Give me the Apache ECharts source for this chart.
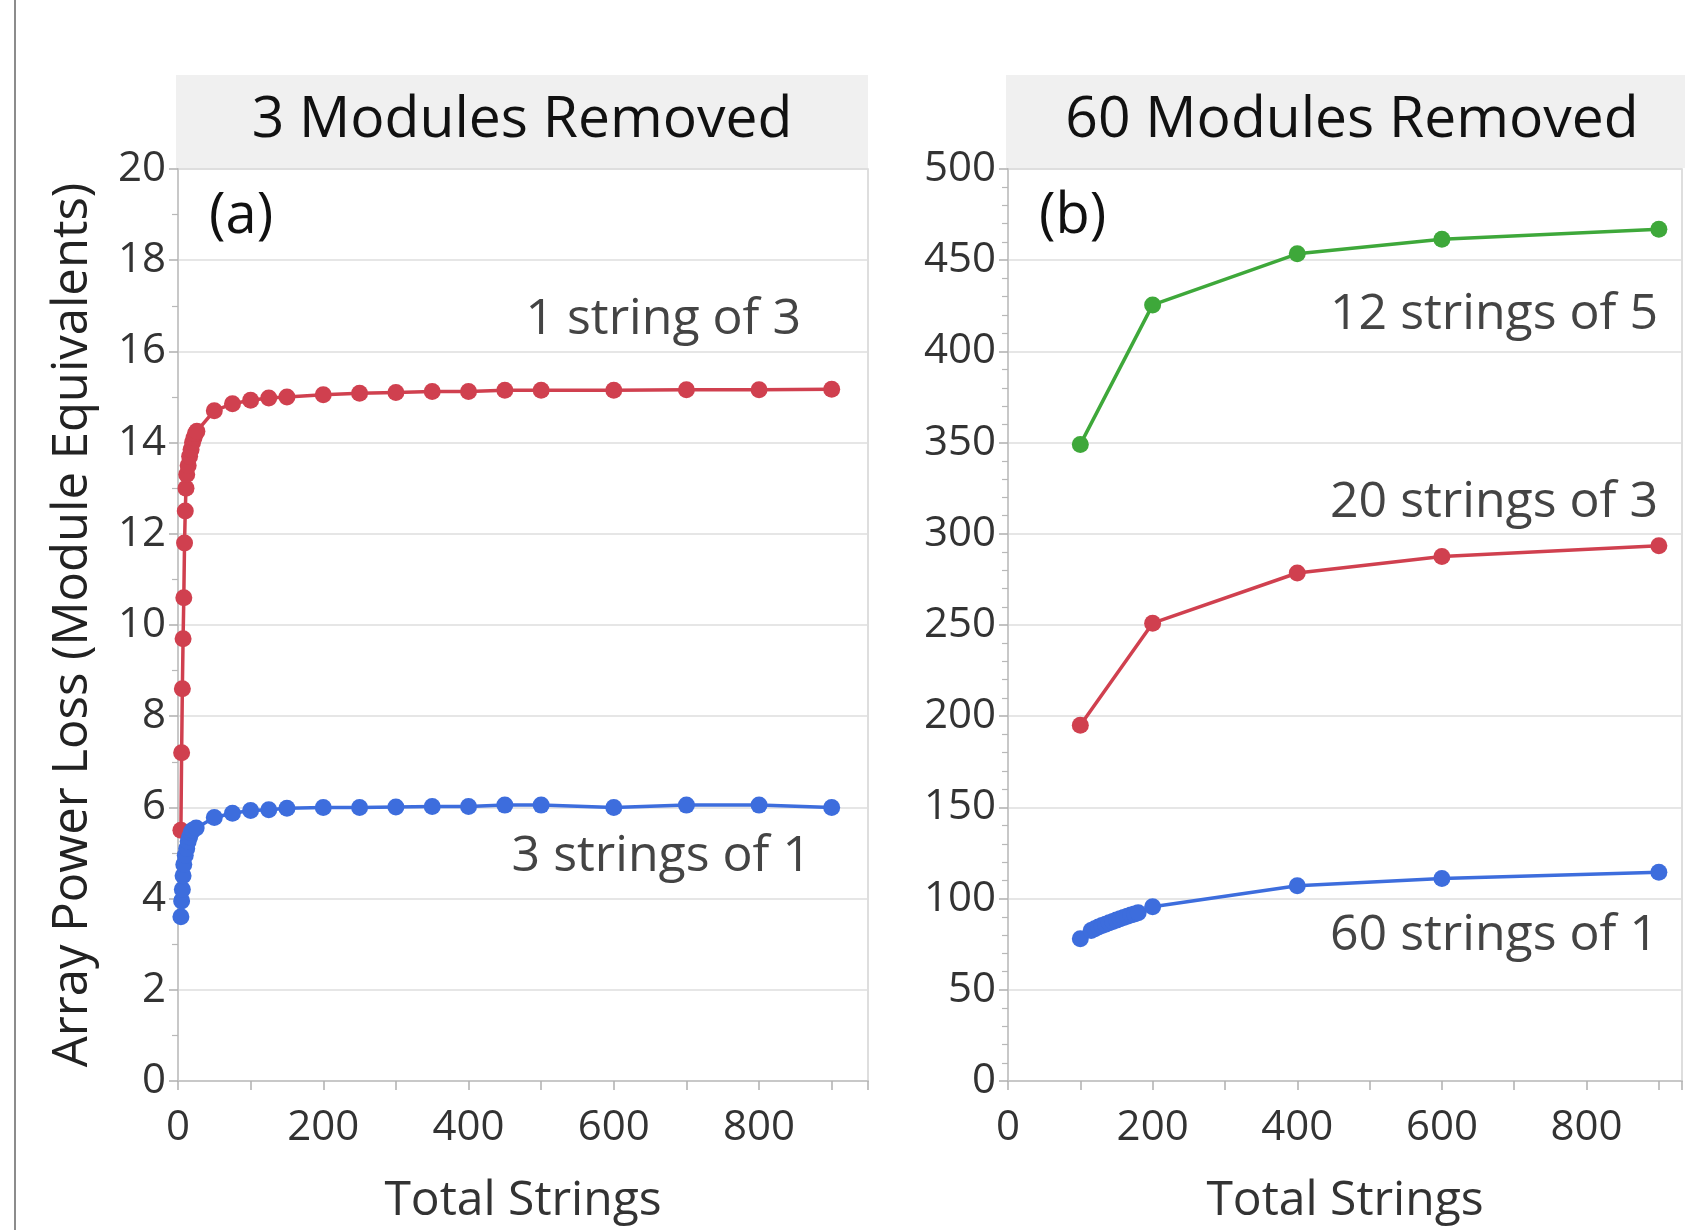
<!DOCTYPE html>
<html>
<head>
<meta charset="utf-8">
<script src="https://cdn.jsdelivr.net/npm/echarts@6/dist/echarts.min.js"></script>
<style>
  html, body { margin: 0; padding: 0; background: #fff; }
  #chart { width: 1685px; height: 1230px; }
</style>
</head>
<body>
<div id="chart"></div>
<script>
// panel (a): 3 modules removed
var redX_a = [4, 5, 6, 7, 8, 9, 10, 11, 12, 14, 16, 18, 20, 22, 24, 26, 50, 75, 100, 125, 150, 200, 250, 300, 350, 400, 450, 500, 600, 700, 800, 900];
var redY_a = [5.5, 7.2, 8.6, 9.7, 10.6, 11.8, 12.5, 13.0, 13.3, 13.5, 13.7, 13.85, 14.0, 14.1, 14.2, 14.25, 14.7, 14.85, 14.93, 14.98, 15.0, 15.05, 15.08, 15.1, 15.12, 15.12, 15.15, 15.15, 15.15, 15.16, 15.16, 15.17];
var blueX_a = [4, 5, 6, 7, 8, 10, 12, 14, 16, 18, 20, 25, 50, 75, 100, 125, 150, 200, 250, 300, 350, 400, 450, 500, 600, 700, 800, 900];
var blueY_a = [3.6, 3.95, 4.2, 4.5, 4.75, 4.95, 5.1, 5.25, 5.35, 5.45, 5.5, 5.55, 5.78, 5.87, 5.93, 5.95, 5.98, 6.0, 6.0, 6.01, 6.02, 6.02, 6.05, 6.05, 6.0, 6.05, 6.05, 6.0];

// panel (b): 60 modules removed
var greenX_b = [100, 200, 400, 600, 900];
var greenY_b = [349, 425.5, 453.5, 461.5, 467];
var redX_b = [100, 200, 400, 600, 900];
var redY_b = [195, 251, 278.5, 287.5, 293.5];
var blueX_b = [100, 115, 120, 125, 130, 135, 140, 145, 150, 155, 160, 165, 170, 175, 180, 200, 400, 600, 900];
var blueY_b = [78, 82.5, 83.5, 84.4, 85.2, 86, 86.8, 87.5, 88.2, 88.9, 89.6, 90.3, 91, 91.6, 92.3, 95.5, 107, 111, 114.5];

var xTickLabels = [0, 200, 400, 600, 800];
var panelTitles = ['3 Modules Removed', '60 Modules Removed'];
var seriesLabels = ['1 string of 3', '3 strings of 1', '12 strings of 5', '20 strings of 3', '60 strings of 1'];

var BLUE = '#3d6ddd', RED = '#d0404f', GREEN = '#3ea83a';
var FONT = '"Open Sans", "Noto Sans", sans-serif';

function zip(xs, ys) {
    return xs.map(function (x, i) { return [x, ys[i]]; });
}

// the right panel is cut off by the picture edge, so its x range stops short of 950
function xAxis(idx, max) {
    return {
        type: 'value', gridIndex: idx, min: 0, max: max, interval: 100,
        axisLine: { show: true, lineStyle: { color: '#c8c8c8', width: 2 } },
        axisTick: { show: true, length: 9, lineStyle: { color: '#b0b0b0', width: 1.5 } },
        axisLabel: {
            margin: 26, color: '#333', fontSize: 42, fontFamily: FONT,
            formatter: function (v) { return xTickLabels.indexOf(v) >= 0 ? String(v) : ''; }
        },
        splitLine: { show: false },
        name: 'Total Strings', nameLocation: 'middle', nameGap: 96,
        nameTextStyle: { color: '#333', fontSize: 48, fontFamily: FONT }
    };
}

function yAxis(idx, max, interval, minorSplit) {
    return {
        type: 'value', gridIndex: idx, min: 0, max: max, interval: interval,
        axisLine: { show: true, lineStyle: { color: '#c8c8c8', width: 2 } },
        axisTick: { show: true, length: 9, lineStyle: { color: '#b0b0b0', width: 1.5 } },
        minorTick: { show: true, splitNumber: minorSplit, length: 6, lineStyle: { color: '#b8b8b8', width: 1.2 } },
        axisLabel: { margin: 12, color: '#333', fontSize: 42, fontFamily: FONT },
        splitLine: { show: true, lineStyle: { color: '#dedede', width: 1.5 } }
    };
}

function line(name, xi, data, color) {
    return {
        name: name, type: 'line', xAxisIndex: xi, yAxisIndex: xi,
        data: data, symbol: 'circle', symbolSize: 17,
        lineStyle: { color: color, width: 3.5 },
        itemStyle: { color: color },
        clip: false, animation: false
    };
}

function txt(text, x, y, size, color, align) {
    return {
        type: 'text', x: x, y: y, z: 50,
        style: {
            text: text, fill: color, font: size + 'px ' + FONT,
            textAlign: align || 'center', textVerticalAlign: 'middle'
        }
    };
}

var chart = echarts.init(document.getElementById('chart'));

var option = {
    backgroundColor: '#fff',
    animation: false,
    grid: [
        { left: 178, top: 169, width: 690, height: 913, show: true, borderColor: '#d4d4d4', borderWidth: 1.5 },
        { left: 1008, top: 169, width: 677, height: 913, show: true, borderColor: '#d4d4d4', borderWidth: 1.5 }
    ],
    xAxis: [xAxis(0, 950), xAxis(1, 932)],
    yAxis: [
        Object.assign(yAxis(0, 20, 2, 2), {
            name: 'Array Power Loss (Module Equivalents)', nameLocation: 'middle', nameGap: 80,
            nameTextStyle: { color: '#222', fontSize: 49, fontFamily: FONT }
        }),
        yAxis(1, 500, 50, 5)
    ],
    series: [
        line(seriesLabels[0], 0, zip(redX_a, redY_a), RED),
        line(seriesLabels[1], 0, zip(blueX_a, blueY_a), BLUE),
        line(seriesLabels[2], 1, zip(greenX_b, greenY_b), GREEN),
        line(seriesLabels[3], 1, zip(redX_b, redY_b), RED),
        line(seriesLabels[4], 1, zip(blueX_b, blueY_b), BLUE)
    ],
    graphic: [
        { type: 'line', shape: { x1: 15, y1: 0, x2: 15, y2: 1230 }, style: { stroke: '#8c8c8c', lineWidth: 2 } },
        { type: 'rect', shape: { x: 176, y: 75, width: 692, height: 93 }, style: { fill: '#f0f0f0' }, z: -1 },
        { type: 'rect', shape: { x: 1006, y: 75, width: 700, height: 93 }, style: { fill: '#f0f0f0' }, z: -1 },
        txt(panelTitles[0], 522, 121, 57, '#111'),
        txt(panelTitles[1], 1352, 121, 57, '#111'),
        txt('(a)', 209, 217, 56, '#111', 'left'),
        txt('(b)', 1039, 217, 56, '#111', 'left'),
        txt(seriesLabels[0], 801, 320, 50, '#444', 'right'),
        txt(seriesLabels[1], 811, 857, 50, '#444', 'right'),
        txt(seriesLabels[2], 1658, 315, 50, '#444', 'right'),
        txt(seriesLabels[3], 1658, 503, 50, '#444', 'right'),
        txt(seriesLabels[4], 1658, 936, 50, '#444', 'right')
    ]
};

chart.setOption(option);
</script>
</body>
</html>
